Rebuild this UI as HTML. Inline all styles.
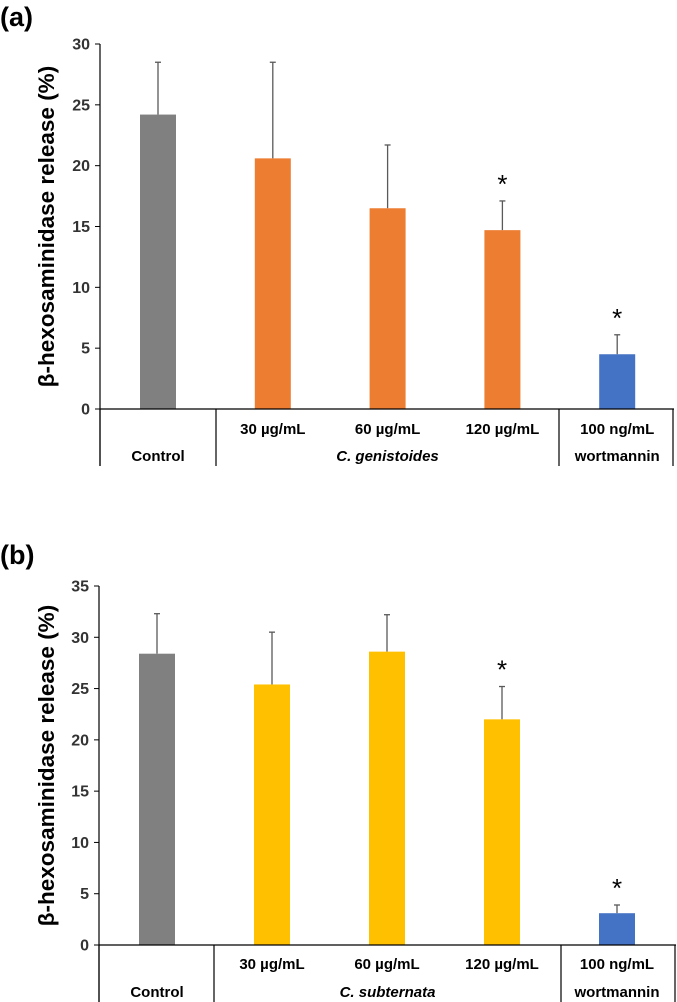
<!DOCTYPE html>
<html><head><meta charset="utf-8"><style>
html,body{margin:0;padding:0;background:#fff;}
svg{display:block;font-family:"Liberation Sans",Arial,sans-serif;}
</style></head><body>
<svg id="fig" width="677" height="1002" viewBox="0 0 677 1002"></svg>
<script>
const categories = ["Control","30 µg/mL","60 µg/mL","120 µg/mL","100 ng/mL"];
const valuesA = [24.2, 20.6, 16.5, 14.7, 4.5];
const errorsA = [4.3, 7.9, 5.2, 2.4, 1.6];
const sigA = [false, false, false, true, true];
const valuesB = [28.4, 25.4, 28.6, 22.0, 3.1];
const errorsB = [3.9, 5.1, 3.6, 3.2, 0.8];
const sigB = [false, false, false, true, true];
const ticksA = [0,5,10,15,20,25,30];
const ticksB = [0,5,10,15,20,25,30,35];
const colorsA = ["#808080","#ed7d31","#ed7d31","#ed7d31","#4472c4"];
const colorsB = ["#808080","#ffc000","#ffc000","#ffc000","#4472c4"];

const NS="http://www.w3.org/2000/svg";
const svg=document.getElementById('fig');
function mk(tag,attrs,parent){const e=document.createElementNS(NS,tag);for(const k in attrs)e.setAttribute(k,attrs[k]);(parent||svg).appendChild(e);return e;}

function chart(opt){
  const g=mk('g',{});
  
  
  const x0=opt.axisX, y0=opt.y0, ymax=opt.ticks[opt.ticks.length-1];
  const yS=v=>y0-(v/ymax)*(y0-opt.yTop);
  const xS=i=>opt.firstCenter+i*opt.step;
  const lbl=mk('text',{x:0,y:opt.labelY,'font-size':27,'font-weight':'bold',fill:'#000'},g);
  lbl.textContent=opt.panel;
  
  
  const ax=mk('line',{x1:x0,y1:opt.yTop,x2:x0,y2:opt.bottom,stroke:'#000','stroke-width':1.2},g);
  
  
  opt.ticks.forEach(t=>{
    mk('line',{x1:x0-5,y1:yS(t),x2:x0,y2:yS(t),stroke:'#000','stroke-width':1},g);
    const tx=mk('text',{x:x0-10,y:yS(t)+5.5,'font-size':16,'font-weight':'bold','text-anchor':'end',fill:'#333'},g);
    tx.textContent=t;
    
    
  });
  const yc=(opt.yTop+y0)/2;
  const yt=mk('text',{x:0,y:0,'font-size':22.5,'font-weight':'bold','text-anchor':'middle',transform:`translate(54,${yc}) rotate(-90)`,fill:'#000'},g);
  yt.textContent='β-hexosaminidase release (%)';
  
  
  opt.values.forEach((v,i)=>{
    const cx=xS(i), w=36;
    const top=yS(v+opt.errors[i]);
    const el=mk('line',{x1:cx,y1:top,x2:cx,y2:yS(v),stroke:'#595959','stroke-width':1.3},g);
    
    
    mk('line',{x1:cx-3,y1:top,x2:cx+3,y2:top,stroke:'#595959','stroke-width':1.3},g);
    const b=mk('rect',{x:cx-w/2,y:yS(v),width:w,height:y0-yS(v),fill:opt.colors[i]},g);
    
    
    if(opt.sig[i]){
      const s=mk('text',{x:cx,y:top-8,'font-size':26,'text-anchor':'middle',fill:'#000'},g);
      s.textContent='*';
      
      
    }
  });
  mk('line',{x1:x0,y1:y0,x2:opt.right,y2:y0,stroke:'#000','stroke-width':1.2},g);
  opt.dividers.forEach(dx=>mk('line',{x1:dx,y1:y0,x2:dx,y2:opt.bottom,stroke:'#000','stroke-width':1.2},g));
  categories.forEach((c,i)=>{
    if(i===0)return;
    const t=mk('text',{x:xS(i),y:opt.row1,'font-size':15,'font-weight':'bold','text-anchor':'middle',fill:'#000'},g);
    t.textContent=c;
    
    
  });
  const rows=[[categories[0],xS(0),false],[opt.group,(opt.dividers[1]+opt.dividers[2])/2,true],['wortmannin',xS(4),false]];
  rows.forEach(r=>{
    const t=mk('text',{x:r[1],y:opt.row2,'font-size':15,'font-weight':'bold','text-anchor':'middle','font-style':r[2]?'italic':'normal',fill:'#000'},g);
    t.textContent=r[0];
    
    
  });
}
chart({name:'chart-a',panel:'(a)',labelY:26,axisX:100,y0:409,yTop:44,ticks:ticksA,values:valuesA,errors:errorsA,sig:sigA,colors:colorsA,
  firstCenter:158,step:114.8,right:674,dividers:[100,216,559,673],bottom:466,row1:434,row2:461,group:'C. genistoides'});
chart({name:'chart-b',panel:'(b)',labelY:564,axisX:99,y0:945,yTop:586,ticks:ticksB,values:valuesB,errors:errorsB,sig:sigB,colors:colorsB,
  firstCenter:157,step:115,right:676,dividers:[99,214,561,675],bottom:1002,row1:969,row2:997,group:'C. subternata'});
</script>
</body></html>
